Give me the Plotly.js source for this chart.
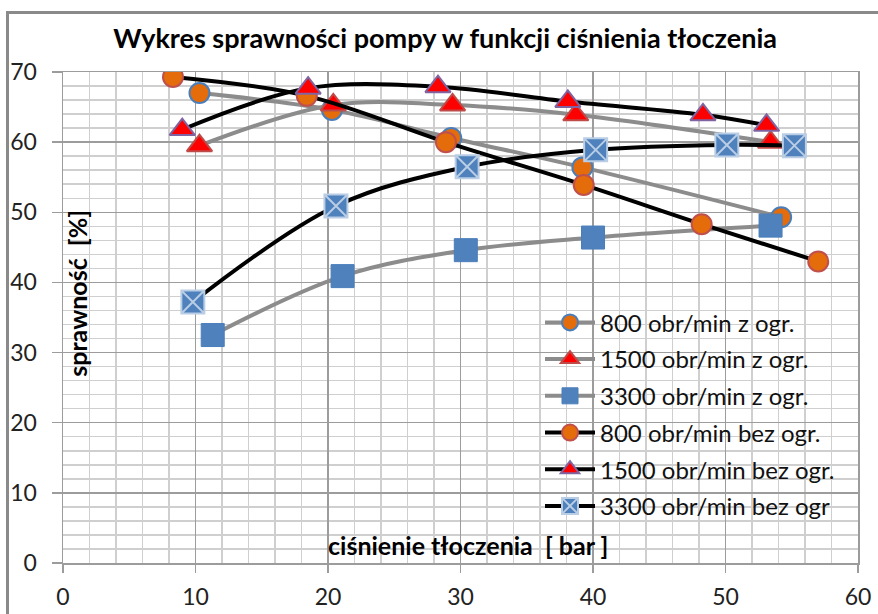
<!DOCTYPE html>
<html>
<head>
<meta charset="utf-8">
<script src="https://cdn.plot.ly/plotly-3.0.1.min.js"></script>
<style>
html,body{margin:0;padding:0;background:#fff;overflow:hidden;}
#frame{position:absolute;left:6px;top:11px;width:900px;height:700px;border-left:3px solid #8a8a8a;border-top:3px solid #8a8a8a;box-sizing:border-box;pointer-events:none;}
#chart{position:absolute;left:0;top:0;width:878px;height:614px;}
</style>
</head>
<body>
<div id="chart"></div>
<div id="frame"></div>
<script>
// ---- data ----
const seriesNames = [
  "800 obr/min z ogr.",
  "1500 obr/min z ogr.",
  "3300 obr/min z ogr.",
  "800 obr/min bez ogr.",
  "1500 obr/min bez ogr.",
  "3300 obr/min bez ogr"
];
const x800z  = [10.3, 20.3, 29.3, 39.2, 54.2];
const y800z  = [67.0, 64.6, 60.6, 56.4, 49.3];
const x1500z = [10.3, 20.4, 29.4, 38.7, 53.4];
const y1500z = [59.5, 65.3, 65.3, 63.9, 60.0];
const x3300z = [11.3, 21.1, 30.4, 40.0, 53.4];
const y3300z = [32.5, 40.9, 44.6, 46.4, 48.1];
const x800b  = [8.3, 18.4, 28.9, 39.3, 48.2, 57.0];
const y800b  = [69.3, 66.6, 60.0, 53.9, 48.3, 43.0];
const x1500b = [9.0, 18.5, 28.3, 38.1, 48.3, 53.1];
const y1500b = [61.8, 67.7, 67.9, 65.8, 63.9, 62.4];
const x3300b = [9.8, 20.6, 30.5, 40.2, 50.1, 55.2];
const y3300b = [37.2, 50.9, 56.5, 58.9, 59.6, 59.5];
const xTicks = [0, 10, 20, 30, 40, 50, 60];
const yTicks = [0, 10, 20, 30, 40, 50, 60, 70];
const chartTitle = "Wykres sprawności pompy w funkcji ciśnienia tłoczenia";
const xTitle = "ciśnienie tłoczenia \u00a0[ bar ]";
const yTitle = "sprawność \u00a0[%]";

// ---- styles ----
const GRAY = "#8c8c8c", BLACK = "#000000";
const ORANGE = "#E46C0A", BLUE = "#4F81BD";
function tr(i, xs, ys, lineColor, marker) {
  return {
    type: "scatter", mode: "lines+markers", name: seriesNames[i],
    x: xs, y: ys, legendgroup: "g" + i,
    line: {color: lineColor, width: 4, shape: "spline", smoothing: 1},
    marker: marker
  };
}
const data = [
  tr(0, x800z, y800z, GRAY, {symbol: "circle", size: 20, color: ORANGE, line: {color: "#4A7EBB", width: 2}}),
  tr(1, x1500z, y1500z, GRAY, {symbol: "triangle-up", size: 22, color: "#FF0000", line: {color: "#BE4B48", width: 2}}),
  tr(2, x3300z, y3300z, GRAY, {symbol: "square", size: 23, color: BLUE, line: {color: "#4A7EBB", width: 1}}),
  tr(3, x800b, y800b, BLACK, {symbol: "circle", size: 20, color: ORANGE, line: {color: "#C0504D", width: 2}}),
  tr(4, x1500b, y1500b, BLACK, {symbol: "triangle-up", size: 22, color: "#FF0000", line: {color: "#8064A2", width: 2}}),
  tr(5, x3300b, y3300b, BLACK, {symbol: "square-x", size: 23, color: BLUE, line: {color: "#B9CDE5", width: 2}})
];

const tickFont = {family: "Lato, 'Open Sans', sans-serif", size: 23, color: "#222"};
const layout = {
  width: 878, height: 614,
  margin: {l: 63, r: 20, t: 72, b: 51},
  paper_bgcolor: "rgba(0,0,0,0)", plot_bgcolor: "#fff",
  showlegend: true,
  title: {text: "<b>" + chartTitle + "</b>", x: 0.507, xanchor: "center", y: 0.937, yanchor: "middle",
          font: {family: "Lato, sans-serif", size: 27, color: "#000"}},
  xaxis: {range: [0, 60], tickvals: xTicks, ticktext: xTicks.map(String),
          showgrid: true, gridcolor: "#9c9c9c", gridwidth: 1.5,
          minor: {dtick: 2, showgrid: true, gridcolor: "#cfcfcf", gridwidth: 1.5},
          zeroline: false, showline: true, linecolor: "#9c9c9c", linewidth: 1.5, mirror: true,
          ticks: "outside", ticklen: 8, tickcolor: "#9c9c9c", tickwidth: 1.5,
          ticklabelstandoff: 5, tickfont: tickFont},
  yaxis: {range: [0, 70], tickvals: yTicks, ticktext: yTicks.map(String),
          showgrid: true, gridcolor: "#9c9c9c", gridwidth: 1.5,
          minor: {dtick: 2, showgrid: true, gridcolor: "#cfcfcf", gridwidth: 1.5},
          zeroline: false, showline: true, linecolor: "#9c9c9c", linewidth: 1.5, mirror: true,
          ticks: "outside", ticklen: 10, tickcolor: "#9c9c9c", tickwidth: 1.5,
          ticklabelstandoff: 10, tickfont: tickFont},
  legend: {x: 0.6, y: 0.535, xanchor: "left", yanchor: "top", bgcolor: "rgba(0,0,0,0)",
           tracegroupgap: 2.5, itemwidth: 50,
           font: {family: "Lato, sans-serif", size: 24, color: "#111"}},
  annotations: [
    {text: "<b>" + xTitle + "</b>", xref: "x", yref: "y", x: 30.6, y: 0.2, xanchor: "center", yanchor: "bottom",
     showarrow: false, font: {family: "Lato, sans-serif", size: 25, color: "#000"}},
    {text: "<b>" + yTitle + "</b>", xref: "paper", yref: "y", x: -0.004, y: 38.5, xanchor: "left", yanchor: "middle",
     textangle: -90, showarrow: false, font: {family: "Lato, sans-serif", size: 25, color: "#000"}}
  ]
};
Plotly.newPlot("chart", data, layout, {displayModeBar: false, staticPlot: true});
</script>
</body>
</html>
